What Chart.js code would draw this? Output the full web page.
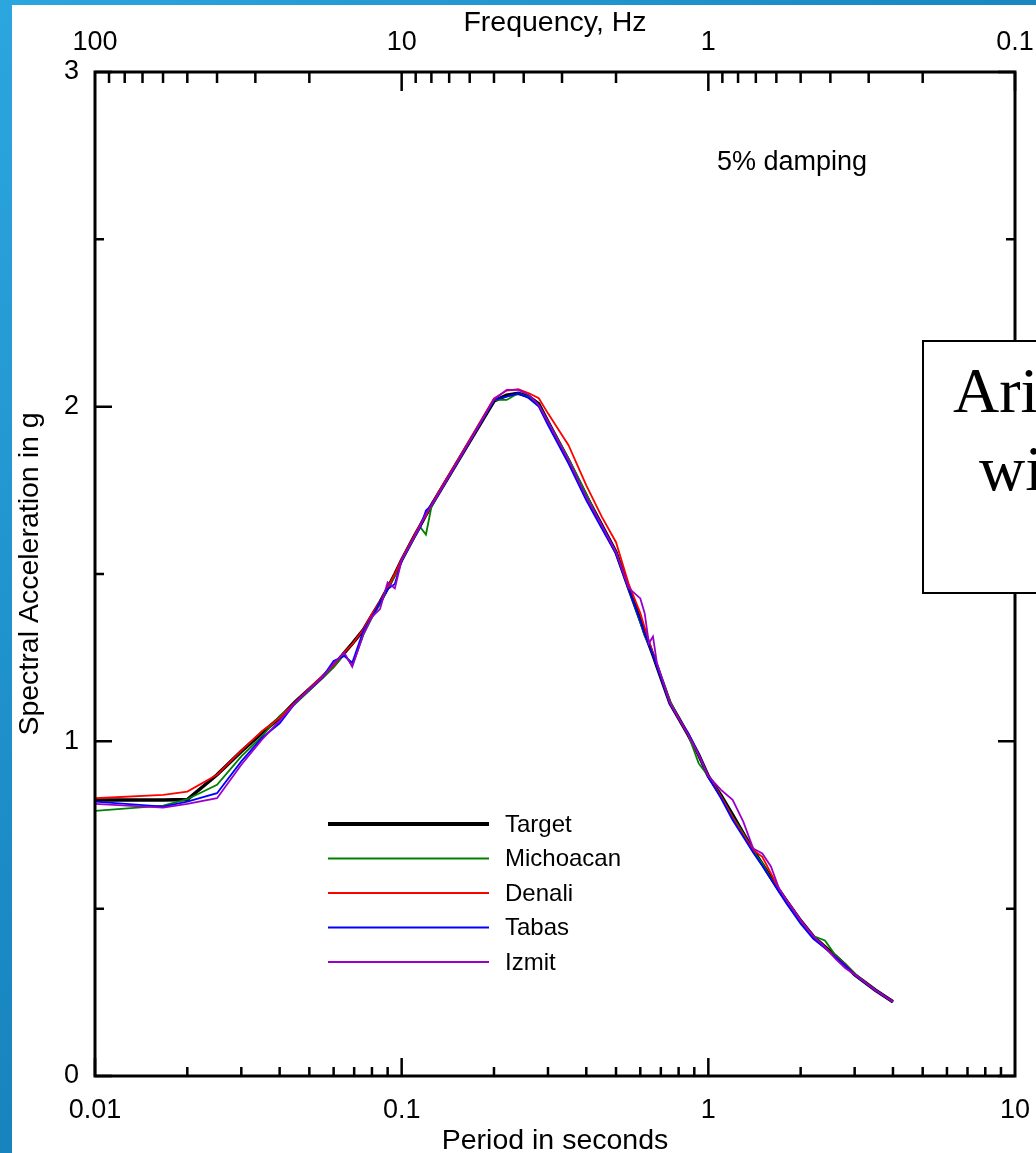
<!DOCTYPE html>
<html>
<head>
<meta charset="utf-8">
<script src="https://cdn.jsdelivr.net/npm/chart.js@4.4.1/dist/chart.umd.min.js"></script>
<style>
  html, body { margin: 0; padding: 0; }
  body { width: 1036px; height: 1153px; overflow: hidden; position: relative;
         background: linear-gradient(135deg, #2ca6df 0%, #1a88c2 45%, #0e6a9b 100%); }
  #paper { position: absolute; left: 12px; top: 5px; right: 0; bottom: 0; background: #fff; }
  #chart { position: absolute; left: 0; top: 0; }
</style>
</head>
<body>
<div id="paper"></div>
<canvas id="chart" width="1036" height="1153"></canvas>
<script>
// periods in seconds (common grid for all records)
const periods = [0.01, 0.0167, 0.02, 0.025, 0.03, 0.035, 0.04, 0.045, 0.05, 0.055,
  0.06, 0.065, 0.069, 0.075, 0.08, 0.085, 0.09, 0.095, 0.1, 0.11,
  0.115, 0.12, 0.125, 0.13, 0.15, 0.17, 0.2, 0.22, 0.24, 0.26, 0.28, 0.3,
  0.35, 0.4, 0.45, 0.5, 0.55, 0.6, 0.62, 0.64, 0.66, 0.68,
  0.75, 0.8, 0.86, 0.93, 1.0, 1.1, 1.2, 1.3, 1.4, 1.5,
  1.6, 1.7, 1.8, 2.0, 2.2, 2.4, 2.6, 2.8, 3.0, 3.5, 4.0];

const target = [0.825, 0.825, 0.826, 0.90, 0.97, 1.025, 1.07, 1.118, 1.156, 1.191,
  1.226, 1.264, 1.292, 1.333, 1.376, 1.416, 1.458, 1.499, 1.542, 1.613,
  1.645, 1.677, 1.705, 1.731, 1.826, 1.909, 2.017, 2.034, 2.04, 2.03, 2.008, 1.955,
  1.84, 1.733, 1.645, 1.565, 1.458, 1.362, 1.325, 1.291, 1.258, 1.224,
  1.114, 1.069, 1.019, 0.96, 0.896, 0.838, 0.78, 0.725, 0.675, 0.633,
  0.593, 0.556, 0.523, 0.464, 0.417, 0.386, 0.358, 0.331, 0.303, 0.257, 0.222];

const michoacan = [0.792, 0.808, 0.827, 0.87, 0.955, 1.015, 1.076, 1.112, 1.152, 1.19,
  1.222, 1.26, 1.226, 1.318, 1.37, 1.41, 1.455, 1.495, 1.54, 1.608,
  1.64, 1.618, 1.70, 1.73, 1.825, 1.91, 2.02, 2.02, 2.04, 2.028, 2.005, 1.955,
  1.845, 1.74, 1.64, 1.565, 1.455, 1.355, 1.315, 1.29, 1.26, 1.225,
  1.12, 1.07, 1.02, 0.934, 0.896, 0.835, 0.775, 0.725, 0.672, 0.635,
  0.59, 0.555, 0.52, 0.46, 0.418, 0.405, 0.36, 0.335, 0.305, 0.257, 0.222];

const denali = [0.83, 0.84, 0.85, 0.90, 0.972, 1.03, 1.07, 1.118, 1.158, 1.195,
  1.228, 1.266, 1.29, 1.335, 1.38, 1.418, 1.46, 1.50, 1.545, 1.615,
  1.648, 1.675, 1.706, 1.735, 1.83, 1.915, 2.025, 2.048, 2.052, 2.04, 2.025, 1.98,
  1.885, 1.765, 1.67, 1.595, 1.47, 1.383, 1.34, 1.30, 1.262, 1.226,
  1.115, 1.07, 1.02, 0.96, 0.896, 0.835, 0.772, 0.72, 0.675, 0.655,
  0.605, 0.558, 0.525, 0.465, 0.418, 0.385, 0.356, 0.332, 0.303, 0.257, 0.222];

const tabas = [0.82, 0.805, 0.82, 0.845, 0.94, 1.01, 1.054, 1.115, 1.155, 1.19,
  1.24, 1.255, 1.235, 1.33, 1.372, 1.415, 1.455, 1.47, 1.54, 1.61,
  1.64, 1.69, 1.705, 1.73, 1.825, 1.91, 2.02, 2.03, 2.04, 2.025, 2.0, 1.945,
  1.83, 1.72, 1.635, 1.56, 1.455, 1.36, 1.32, 1.29, 1.258, 1.224,
  1.112, 1.068, 1.024, 0.962, 0.893, 0.83, 0.765, 0.715, 0.668, 0.628,
  0.588, 0.55, 0.515, 0.455, 0.41, 0.382, 0.355, 0.33, 0.302, 0.256, 0.222];

const izmit = [0.813, 0.802, 0.813, 0.83, 0.93, 1.005, 1.062, 1.115, 1.155, 1.19,
  1.232, 1.265, 1.223, 1.32, 1.372, 1.395, 1.475, 1.457, 1.542, 1.61,
  1.645, 1.68, 1.705, 1.73, 1.826, 1.91, 2.022, 2.05, 2.05, 2.035, 2.005, 1.955,
  1.84, 1.73, 1.645, 1.565, 1.458, 1.427, 1.383, 1.293, 1.313, 1.233,
  1.114, 1.069, 1.02, 0.96, 0.896, 0.855, 0.825, 0.76, 0.68, 0.665,
  0.626, 0.56, 0.525, 0.465, 0.418, 0.385, 0.35, 0.322, 0.303, 0.257, 0.222];

const periodLabels = [0.01, 0.1, 1, 10];
const freqLabels = [100, 10, 1, 0.1];
const accelTicks = [0, 0.5, 1, 1.5, 2, 2.5, 3];

const SANS = "'Liberation Sans', Arial, sans-serif";
const SERIF = "'Liberation Serif', 'Times New Roman', serif";

function pts(vals) {
  return periods.map((p, i) => ({ x: p, y: vals[i] }));
}

function series(label, vals, color, width, order) {
  return { label, data: pts(vals), borderColor: color, borderWidth: width,
    pointRadius: 0, tension: 0, fill: false, order, xAxisID: 'x', yAxisID: 'y' };
}

// frame + inward tick marks
const frame = {
  id: 'frame',
  afterDatasetsDraw(chart) {
    const { ctx, chartArea: a, scales } = chart;
    const x = scales.x, x2 = scales.x2, y = scales.y;
    ctx.save();
    ctx.strokeStyle = '#000';
    ctx.lineWidth = 3;
    ctx.strokeRect(a.left, a.top, a.right - a.left, a.bottom - a.top);
    ctx.lineWidth = 2.5;
    ctx.beginPath();
    [0.01, 0.1, 1].forEach(d => {
      for (let m = 1; m <= 9; m++) {
        const px = x.getPixelForValue(d * m);
        const len = m === 1 ? 18 : 9;
        ctx.moveTo(px, a.bottom); ctx.lineTo(px, a.bottom - len);
      }
    });
    [0.1, 1, 10].forEach(d => {
      for (let m = 1; m <= 9; m++) {
        const px = x2.getPixelForValue(d * m);
        const len = m === 1 ? 19 : 11;
        ctx.moveTo(px, a.top); ctx.lineTo(px, a.top + len);
      }
    });
    accelTicks.forEach(v => {
      const py = y.getPixelForValue(v);
      const len = Number.isInteger(v) ? 17 : 9;
      ctx.moveTo(a.left, py); ctx.lineTo(a.left + len, py);
      ctx.moveTo(a.right, py); ctx.lineTo(a.right - len, py);
    });
    ctx.stroke();
    ctx.restore();
  },
  afterDraw(chart) {
    const ctx = chart.ctx;
    ctx.save();
    // legend
    ctx.font = '24px ' + SANS;
    ctx.textBaseline = 'middle';
    ctx.fillStyle = '#000';
    chart.data.datasets.forEach((ds, i) => {
      const ly = 824 + i * 34.5;
      ctx.strokeStyle = ds.borderColor;
      ctx.lineWidth = i === 0 ? 4 : 2;
      ctx.beginPath(); ctx.moveTo(328, ly); ctx.lineTo(489, ly); ctx.stroke();
      ctx.fillText(ds.label, 505, ly + 1);
    });
    // note
    ctx.font = '27px ' + SANS;
    ctx.textAlign = 'center';
    ctx.textBaseline = 'alphabetic';
    ctx.fillText('5% damping', 792, 170);
    // overlapping text box at the right edge
    ctx.fillStyle = '#fff';
    ctx.fillRect(923, 341, 140, 252);
    ctx.strokeStyle = '#000';
    ctx.lineWidth = 2;
    ctx.strokeRect(923, 341, 140, 252);
    ctx.fillStyle = '#000';
    ctx.textAlign = 'left';
    ctx.font = '64px ' + SERIF;
    ctx.fillText('Ari', 953, 412);
    ctx.fillText('wi', 979, 490);
    ctx.restore();
  }
};

new Chart(document.getElementById('chart'), {
  type: 'line',
  data: {
    datasets: [
      series('Target', target, '#000000', 3.5, 4),
      series('Michoacan', michoacan, '#008000', 1.8, 3),
      series('Denali', denali, '#ff0000', 1.8, 2),
      series('Tabas', tabas, '#0000ff', 1.8, 1),
      series('Izmit', izmit, '#9900cc', 1.8, 0)
    ]
  },
  options: {
    responsive: false,
    animation: false,
    devicePixelRatio: 1,
    layout: { padding: { right: 21 } },
    plugins: { legend: { display: false }, tooltip: { enabled: false } },
    scales: {
      x: {
        type: 'logarithmic', position: 'bottom', min: 0.01, max: 10,
        grid: { display: false, drawTicks: false }, border: { display: false },
        afterBuildTicks: s => { s.ticks = periodLabels.map(v => ({ value: v })); },
        afterFit: s => { s.height = 77; s.paddingLeft = 0; s.paddingRight = 0; },
        ticks: { color: '#000', font: { family: SANS, size: 27 }, padding: 18,
          maxRotation: 0, autoSkip: false, callback: v => String(v) },
        title: { display: true, text: 'Period in seconds', color: '#000',
          font: { family: SANS, size: 28.5, lineHeight: 0.85 }, padding: { top: 0, bottom: 0 } }
      },
      x2: {
        type: 'logarithmic', position: 'top', min: 0.1, max: 100, reverse: true,
        grid: { display: false, drawTicks: false }, border: { display: false },
        afterBuildTicks: s => { s.ticks = freqLabels.map(v => ({ value: v })); },
        afterFit: s => { s.height = 72; s.paddingLeft = 0; s.paddingRight = 0; },
        ticks: { color: '#000', font: { family: SANS, size: 27 }, padding: 13,
          maxRotation: 0, autoSkip: false, callback: v => String(v) },
        title: { display: true, text: 'Frequency, Hz', color: '#000',
          font: { family: SANS, size: 28.5, lineHeight: 1 }, padding: { top: 9, bottom: 0 } }
      },
      y: {
        type: 'linear', position: 'left', min: 0, max: 3,
        grid: { display: false, drawTicks: false }, border: { display: false },
        afterBuildTicks: s => { s.ticks = accelTicks.map(v => ({ value: v })); },
        afterFit: s => { s.width = 95; },
        ticks: { color: '#000', font: { family: SANS, size: 27 }, padding: 16,
          autoSkip: false, callback: v => Number.isInteger(v) ? String(v) : '' },
        title: { display: true, text: 'Spectral Acceleration in g', color: '#000',
          font: { family: SANS, size: 28.5, lineHeight: 1 }, padding: { top: 16, bottom: 0 } }
      }
    }
  },
  plugins: [frame]
});
</script>
</body>
</html>
